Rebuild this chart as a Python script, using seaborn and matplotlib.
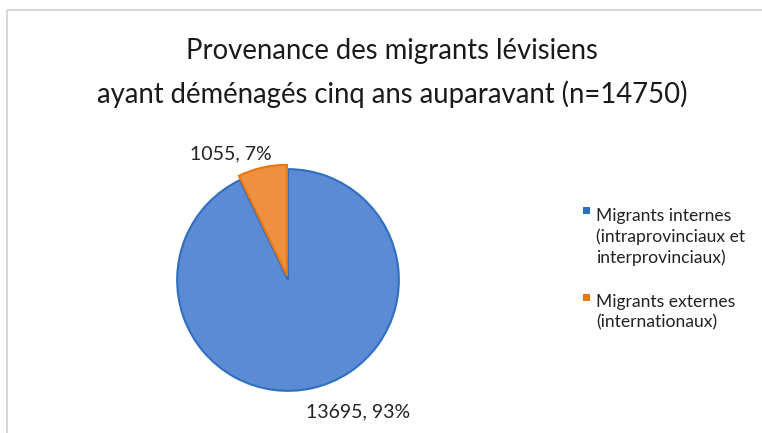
import matplotlib
matplotlib.use("Agg")
import matplotlib.pyplot as plt
import seaborn as sns
from matplotlib.lines import Line2D
from matplotlib.patches import Rectangle

sns.set_theme(style="white")
plt.rcParams['font.family'] = ['Lato', 'DejaVu Sans']

# data
categories = ['Migrants internes\n(intraprovinciaux et\ninterprovinciaux)',
              'Migrants externes\n(internationaux)']
counts = [13695, 1055]
title_lines = ['Provenance des migrants lévisiens',
               'ayant déménagés cinq ans auparavant (n=14750)']

fill_colors = ['#5A8BD4', '#EE9040']
edge_colors = ['#2F6FC0', '#E8770F']

W, H = 762, 433
fig = plt.figure(figsize=(W / 100, H / 100), dpi=100)

# light frame (top and left edges of the original chart box)
fig.add_artist(Line2D([7 / W, 1.02], [1 - 10 / H, 1 - 10 / H], color='#d0d0d0',
                      linewidth=1.2, solid_capstyle='butt'))
fig.add_artist(Line2D([7 / W, 7 / W], [-0.02, 1 - 10 / H], color='#d0d0d0',
                      linewidth=1.2, solid_capstyle='butt'))

ax = fig.add_axes([155 / W, 20 / H, 266 / W, 266 / H])
wedges, _ = ax.pie(counts, colors=fill_colors, startangle=90, counterclock=False,
                   explode=[0, 0.04], radius=1,
                   wedgeprops=dict(linewidth=1.5))
for w, ec in zip(wedges, edge_colors):
    w.set_edgecolor(ec)
ax.set_xlim(-1.2, 1.2)
ax.set_ylim(-1.2, 1.2)
ax.set_aspect('equal')
ax.axis('off')

total = sum(counts)
labels = ['%d, %d%%' % (c, round(100 * c / total)) for c in counts]
ax.text(0.765, 0.005, labels[0], transform=ax.transAxes, ha='center', va='center',
        fontsize=14, color='#222222')
ax.text(0.285, 0.975, labels[1], transform=ax.transAxes, ha='center', va='center',
        fontsize=14, color='#222222')

# title, two centred lines
for txt, yb in zip(title_lines, [59, 103]):
    fig.text(392 / W, 1 - yb / H, txt, ha='center', va='baseline',
             fontsize=19.8, color='#1a1a1a')

# legend: square marker aligned with the first line of each entry
line_h = 22.5
yb = 218
for cat, c in zip(categories, edge_colors):
    n = cat.count('\n') + 1
    fig.add_artist(Rectangle((583 / W, 1 - (yb - 4) / H), 7 / W, 7 / H,
                             transform=fig.transFigure, facecolor=c, edgecolor='none'))
    # va='baseline' puts the last line on the given y
    fig.text(596 / W, 1 - (yb + (n - 1) * line_h) / H, cat, ha='left', va='baseline',
             fontsize=12.6, linespacing=1.33, color='#222222')
    yb += n * line_h + 19.5

fig.savefig('out.png', dpi=100)
